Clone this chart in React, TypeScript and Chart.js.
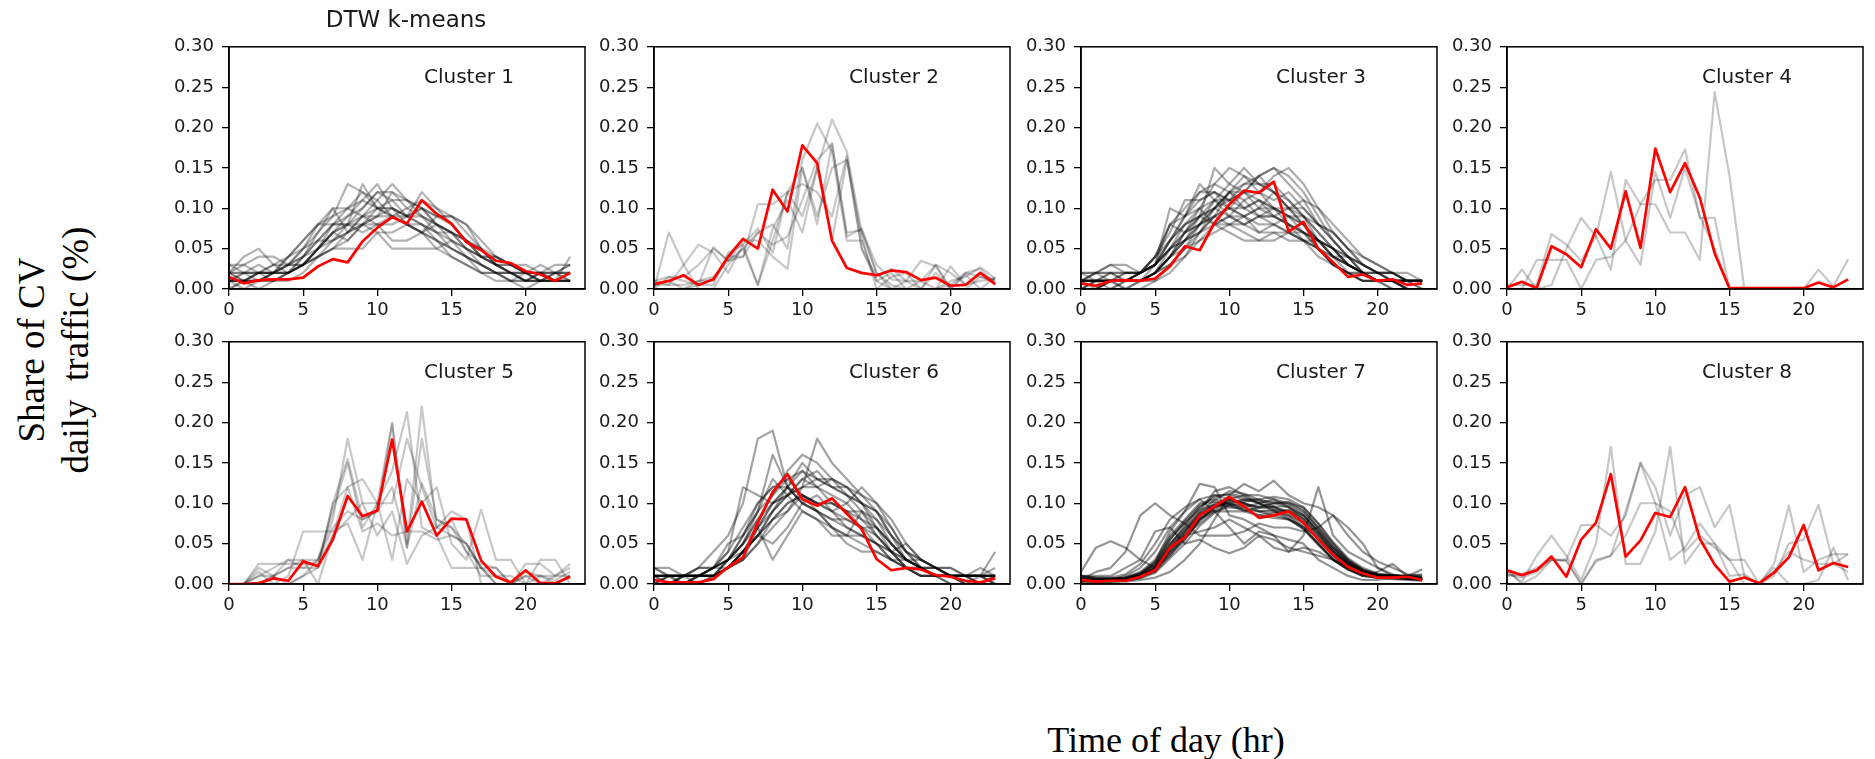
import React, { useEffect, useRef } from 'react';
import { Chart, registerables } from 'chart.js';

Chart.register(...registerables);

// ---------- data ----------
const HOURS = [0, 1, 2, 3, 4, 5, 6, 7, 8, 9, 10, 11, 12, 13, 14, 15, 16, 17, 18, 19, 20, 21, 22, 23];
const X_TICKS = [0, 5, 10, 15, 20];
const Y_TICKS = [0, 0.05, 0.1, 0.15, 0.2, 0.25, 0.3];
const CLUSTER_LABELS = ['Cluster 1', 'Cluster 2', 'Cluster 3', 'Cluster 4', 'Cluster 5', 'Cluster 6', 'Cluster 7', 'Cluster 8'];
const FIGURE_TITLE = 'DTW k-means';
const Y_TITLE_LINE1 = 'Share of CV';
const Y_TITLE_LINE2 = 'daily  traffic (%)';
const X_TITLE = 'Time of day (hr)';

// cluster centroids (red)
const c1Center = [0.015, 0.007, 0.011, 0.012, 0.012, 0.014, 0.028, 0.037, 0.033, 0.059, 0.076, 0.089, 0.081, 0.110, 0.093, 0.081, 0.058, 0.048, 0.035, 0.032, 0.022, 0.018, 0.010, 0.020];
const c2Center = [0.006, 0.010, 0.017, 0.005, 0.012, 0.040, 0.062, 0.050, 0.123, 0.096, 0.178, 0.156, 0.060, 0.026, 0.020, 0.017, 0.023, 0.021, 0.011, 0.014, 0.004, 0.005, 0.020, 0.006];
const c3Center = [0.007, 0.004, 0.010, 0.011, 0.010, 0.013, 0.028, 0.053, 0.048, 0.082, 0.105, 0.122, 0.119, 0.133, 0.071, 0.083, 0.050, 0.033, 0.015, 0.018, 0.010, 0.012, 0.005, 0.007];
const c4Center = [0.002, 0.009, 0.001, 0.053, 0.043, 0.027, 0.074, 0.050, 0.121, 0.051, 0.174, 0.120, 0.156, 0.113, 0.044, 0.001, 0.001, 0.001, 0.001, 0.001, 0.001, 0.008, 0.002, 0.012];
const c5Center = [0.000, 0.000, 0.001, 0.007, 0.004, 0.028, 0.022, 0.055, 0.109, 0.084, 0.091, 0.179, 0.065, 0.102, 0.060, 0.081, 0.080, 0.029, 0.009, 0.002, 0.017, 0.001, 0.001, 0.009];
const c6Center = [0.005, 0.002, 0.002, 0.002, 0.006, 0.021, 0.033, 0.076, 0.114, 0.136, 0.105, 0.097, 0.106, 0.087, 0.068, 0.031, 0.017, 0.020, 0.018, 0.011, 0.009, 0.004, 0.002, 0.007];
const c7Center = [0.005, 0.003, 0.004, 0.004, 0.009, 0.017, 0.045, 0.058, 0.085, 0.096, 0.108, 0.096, 0.082, 0.085, 0.090, 0.076, 0.055, 0.036, 0.021, 0.013, 0.008, 0.008, 0.009, 0.005];
const c8Center = [0.017, 0.011, 0.017, 0.034, 0.009, 0.055, 0.076, 0.136, 0.034, 0.054, 0.088, 0.083, 0.120, 0.056, 0.024, 0.003, 0.008, 0.001, 0.014, 0.033, 0.073, 0.017, 0.026, 0.021];

// member profiles (grey)
const c1Members = [
  [0.02, 0.04, 0.05, 0.03, 0.02, 0.03, 0.05, 0.07, 0.08, 0.10, 0.12, 0.11, 0.09, 0.08, 0.07, 0.06, 0.05, 0.03, 0.02, 0.02, 0.01, 0.02, 0.01, 0.01],
  [0.01, 0.01, 0.02, 0.03, 0.04, 0.06, 0.08, 0.09, 0.13, 0.12, 0.10, 0.09, 0.09, 0.08, 0.06, 0.05, 0.04, 0.03, 0.02, 0.02, 0.02, 0.01, 0.01, 0.02],
  [0.00, 0.01, 0.01, 0.02, 0.02, 0.04, 0.06, 0.08, 0.09, 0.11, 0.13, 0.10, 0.09, 0.10, 0.08, 0.07, 0.05, 0.04, 0.03, 0.02, 0.01, 0.01, 0.01, 0.01],
  [0.02, 0.02, 0.03, 0.02, 0.03, 0.05, 0.07, 0.10, 0.07, 0.08, 0.09, 0.12, 0.10, 0.09, 0.07, 0.05, 0.04, 0.02, 0.02, 0.01, 0.01, 0.02, 0.01, 0.01],
  [0.01, 0.02, 0.01, 0.02, 0.02, 0.03, 0.05, 0.06, 0.08, 0.09, 0.09, 0.10, 0.09, 0.12, 0.10, 0.08, 0.06, 0.05, 0.03, 0.02, 0.02, 0.02, 0.01, 0.02],
  [0.03, 0.03, 0.04, 0.04, 0.03, 0.05, 0.08, 0.08, 0.08, 0.07, 0.08, 0.09, 0.08, 0.08, 0.07, 0.07, 0.06, 0.04, 0.04, 0.03, 0.03, 0.02, 0.02, 0.01],
  [0.01, 0.00, 0.01, 0.01, 0.02, 0.03, 0.04, 0.06, 0.07, 0.09, 0.10, 0.11, 0.11, 0.10, 0.09, 0.09, 0.07, 0.05, 0.03, 0.02, 0.01, 0.01, 0.02, 0.03],
  [0.02, 0.01, 0.02, 0.02, 0.03, 0.04, 0.05, 0.07, 0.08, 0.08, 0.07, 0.07, 0.08, 0.07, 0.08, 0.07, 0.06, 0.04, 0.04, 0.03, 0.02, 0.02, 0.03, 0.03],
  [0.01, 0.02, 0.02, 0.01, 0.02, 0.04, 0.07, 0.09, 0.10, 0.12, 0.11, 0.09, 0.08, 0.07, 0.06, 0.04, 0.03, 0.02, 0.02, 0.01, 0.01, 0.01, 0.01, 0.01],
  [0.01, 0.01, 0.01, 0.02, 0.03, 0.03, 0.05, 0.07, 0.09, 0.10, 0.12, 0.12, 0.11, 0.10, 0.08, 0.06, 0.04, 0.03, 0.02, 0.02, 0.01, 0.02, 0.02, 0.02],
  [0.02, 0.02, 0.02, 0.03, 0.03, 0.04, 0.06, 0.06, 0.07, 0.09, 0.11, 0.13, 0.11, 0.09, 0.08, 0.07, 0.05, 0.04, 0.03, 0.02, 0.02, 0.01, 0.02, 0.02],
  [0.00, 0.01, 0.02, 0.02, 0.02, 0.03, 0.04, 0.05, 0.07, 0.08, 0.09, 0.09, 0.10, 0.11, 0.10, 0.09, 0.08, 0.06, 0.04, 0.03, 0.02, 0.02, 0.01, 0.02],
  [0.01, 0.01, 0.00, 0.01, 0.02, 0.03, 0.05, 0.08, 0.10, 0.09, 0.08, 0.06, 0.06, 0.07, 0.09, 0.08, 0.06, 0.05, 0.03, 0.02, 0.01, 0.01, 0.01, 0.04],
  [0.02, 0.03, 0.02, 0.02, 0.04, 0.05, 0.06, 0.08, 0.08, 0.13, 0.10, 0.10, 0.08, 0.07, 0.06, 0.05, 0.04, 0.03, 0.02, 0.01, 0.02, 0.01, 0.01, 0.01],
  [0.01, 0.01, 0.01, 0.01, 0.01, 0.02, 0.04, 0.05, 0.06, 0.08, 0.08, 0.08, 0.09, 0.10, 0.09, 0.09, 0.08, 0.05, 0.04, 0.03, 0.02, 0.03, 0.02, 0.01],
  [0.03, 0.02, 0.02, 0.02, 0.02, 0.03, 0.04, 0.05, 0.05, 0.05, 0.07, 0.05, 0.05, 0.05, 0.05, 0.06, 0.05, 0.04, 0.03, 0.03, 0.02, 0.02, 0.02, 0.02],
  [0.01, 0.01, 0.01, 0.02, 0.04, 0.06, 0.08, 0.10, 0.10, 0.11, 0.10, 0.09, 0.08, 0.07, 0.05, 0.04, 0.03, 0.02, 0.01, 0.01, 0.00, 0.01, 0.01, 0.01],
  [0.02, 0.01, 0.02, 0.02, 0.03, 0.03, 0.05, 0.07, 0.06, 0.08, 0.10, 0.10, 0.09, 0.09, 0.08, 0.07, 0.06, 0.04, 0.03, 0.03, 0.02, 0.01, 0.02, 0.03],
];

const c2Members = [
  [0.00, 0.07, 0.03, 0.00, 0.00, 0.03, 0.05, 0.07, 0.08, 0.05, 0.16, 0.205, 0.17, 0.06, 0.06, 0.01, 0.00, 0.00, 0.01, 0.03, 0.02, 0.005, 0.02, 0.01],
  [0.01, 0.015, 0.015, 0.03, 0.05, 0.035, 0.04, 0.105, 0.105, 0.12, 0.09, 0.15, 0.21, 0.17, 0.07, 0.02, 0.005, 0.00, 0.00, 0.00, 0.028, 0.005, 0.01, 0.012],
  [0.005, 0.005, 0.03, 0.055, 0.045, 0.02, 0.055, 0.075, 0.045, 0.12, 0.15, 0.08, 0.18, 0.07, 0.073, 0.03, 0.012, 0.01, 0.035, 0.028, 0.00, 0.02, 0.025, 0.005],
  [0.00, 0.00, 0.00, 0.005, 0.052, 0.035, 0.06, 0.06, 0.04, 0.025, 0.15, 0.09, 0.15, 0.16, 0.05, 0.015, 0.025, 0.01, 0.00, 0.00, 0.01, 0.015, 0.027, 0.013],
  [0.005, 0.01, 0.00, 0.01, 0.015, 0.035, 0.05, 0.005, 0.075, 0.11, 0.07, 0.15, 0.06, 0.16, 0.065, 0.00, 0.015, 0.02, 0.00, 0.03, 0.00, 0.018, 0.00, 0.015],
  [0.00, 0.015, 0.01, 0.005, 0.005, 0.045, 0.055, 0.005, 0.06, 0.12, 0.13, 0.12, 0.09, 0.165, 0.05, 0.01, 0.02, 0.00, 0.00, 0.02, 0.00, 0.00, 0.015, 0.012],
  [0.01, 0.005, 0.005, 0.01, 0.01, 0.04, 0.04, 0.07, 0.055, 0.065, 0.11, 0.16, 0.18, 0.065, 0.075, 0.02, 0.00, 0.01, 0.01, 0.00, 0.005, 0.02, 0.015, 0.008],
];

const c3Members = [
  [0.01, 0.01, 0.02, 0.02, 0.02, 0.04, 0.08, 0.10, 0.12, 0.13, 0.12, 0.12, 0.11, 0.10, 0.09, 0.07, 0.05, 0.03, 0.02, 0.01, 0.01, 0.01, 0.00, 0.00],
  [0.00, 0.00, 0.01, 0.01, 0.01, 0.02, 0.05, 0.07, 0.09, 0.11, 0.13, 0.15, 0.13, 0.12, 0.10, 0.08, 0.06, 0.04, 0.02, 0.01, 0.01, 0.00, 0.00, 0.00],
  [0.01, 0.01, 0.01, 0.01, 0.02, 0.03, 0.06, 0.09, 0.13, 0.11, 0.10, 0.09, 0.10, 0.12, 0.11, 0.09, 0.06, 0.04, 0.03, 0.02, 0.01, 0.01, 0.01, 0.01],
  [0.02, 0.02, 0.03, 0.03, 0.02, 0.03, 0.10, 0.09, 0.10, 0.08, 0.08, 0.09, 0.07, 0.08, 0.09, 0.08, 0.06, 0.05, 0.03, 0.02, 0.02, 0.02, 0.01, 0.01],
  [0.00, 0.00, 0.00, 0.00, 0.01, 0.02, 0.03, 0.05, 0.08, 0.10, 0.12, 0.13, 0.14, 0.15, 0.13, 0.11, 0.08, 0.06, 0.04, 0.02, 0.01, 0.01, 0.01, 0.00],
  [0.01, 0.01, 0.01, 0.01, 0.01, 0.02, 0.04, 0.07, 0.10, 0.13, 0.15, 0.14, 0.12, 0.10, 0.08, 0.06, 0.05, 0.03, 0.02, 0.01, 0.01, 0.01, 0.01, 0.01],
  [0.00, 0.01, 0.00, 0.01, 0.01, 0.03, 0.05, 0.06, 0.08, 0.09, 0.10, 0.10, 0.11, 0.10, 0.10, 0.10, 0.08, 0.07, 0.05, 0.03, 0.02, 0.01, 0.01, 0.01],
  [0.01, 0.02, 0.01, 0.02, 0.02, 0.04, 0.07, 0.11, 0.11, 0.12, 0.10, 0.09, 0.08, 0.08, 0.07, 0.06, 0.05, 0.04, 0.03, 0.02, 0.02, 0.01, 0.01, 0.01],
  [0.00, 0.00, 0.01, 0.01, 0.01, 0.01, 0.03, 0.04, 0.06, 0.08, 0.09, 0.11, 0.12, 0.14, 0.15, 0.13, 0.10, 0.07, 0.05, 0.03, 0.02, 0.01, 0.00, 0.00],
  [0.01, 0.01, 0.01, 0.02, 0.02, 0.03, 0.06, 0.08, 0.09, 0.10, 0.09, 0.08, 0.07, 0.07, 0.07, 0.06, 0.06, 0.05, 0.04, 0.03, 0.02, 0.02, 0.01, 0.01],
  [0.02, 0.01, 0.01, 0.01, 0.01, 0.02, 0.04, 0.07, 0.08, 0.11, 0.11, 0.13, 0.13, 0.12, 0.10, 0.09, 0.07, 0.05, 0.03, 0.02, 0.02, 0.01, 0.01, 0.01],
  [0.01, 0.00, 0.01, 0.00, 0.01, 0.02, 0.04, 0.05, 0.06, 0.07, 0.08, 0.07, 0.06, 0.07, 0.06, 0.06, 0.05, 0.04, 0.04, 0.03, 0.02, 0.02, 0.01, 0.01],
  [0.01, 0.01, 0.01, 0.01, 0.02, 0.04, 0.06, 0.09, 0.12, 0.12, 0.11, 0.12, 0.10, 0.09, 0.08, 0.07, 0.05, 0.03, 0.02, 0.02, 0.01, 0.01, 0.00, 0.00],
  [0.00, 0.01, 0.01, 0.00, 0.00, 0.01, 0.02, 0.04, 0.07, 0.10, 0.12, 0.14, 0.13, 0.13, 0.11, 0.09, 0.07, 0.05, 0.03, 0.02, 0.01, 0.01, 0.01, 0.01],
  [0.01, 0.02, 0.03, 0.02, 0.02, 0.03, 0.05, 0.06, 0.07, 0.09, 0.12, 0.11, 0.09, 0.09, 0.08, 0.07, 0.06, 0.05, 0.04, 0.03, 0.02, 0.02, 0.02, 0.01],
  [0.00, 0.00, 0.01, 0.01, 0.02, 0.03, 0.08, 0.07, 0.09, 0.10, 0.12, 0.10, 0.11, 0.09, 0.08, 0.07, 0.06, 0.04, 0.03, 0.02, 0.01, 0.01, 0.00, 0.00],
  [0.01, 0.01, 0.01, 0.01, 0.01, 0.02, 0.03, 0.05, 0.07, 0.09, 0.10, 0.12, 0.12, 0.11, 0.12, 0.10, 0.08, 0.06, 0.04, 0.02, 0.01, 0.01, 0.01, 0.01],
  [0.02, 0.02, 0.02, 0.01, 0.02, 0.03, 0.05, 0.08, 0.10, 0.11, 0.09, 0.08, 0.09, 0.10, 0.09, 0.08, 0.06, 0.04, 0.03, 0.02, 0.01, 0.01, 0.01, 0.01],
  [0.00, 0.01, 0.01, 0.01, 0.01, 0.02, 0.04, 0.06, 0.09, 0.15, 0.13, 0.12, 0.14, 0.12, 0.10, 0.08, 0.05, 0.03, 0.02, 0.01, 0.01, 0.00, 0.00, 0.00],
  [0.01, 0.01, 0.01, 0.01, 0.01, 0.02, 0.04, 0.06, 0.07, 0.08, 0.09, 0.09, 0.10, 0.10, 0.09, 0.09, 0.08, 0.07, 0.05, 0.04, 0.03, 0.02, 0.01, 0.01],
  [0.01, 0.02, 0.02, 0.01, 0.02, 0.03, 0.06, 0.08, 0.09, 0.08, 0.07, 0.06, 0.06, 0.06, 0.07, 0.07, 0.06, 0.05, 0.03, 0.02, 0.01, 0.01, 0.01, 0.01],
  [0.00, 0.00, 0.00, 0.01, 0.01, 0.02, 0.04, 0.06, 0.08, 0.10, 0.11, 0.12, 0.14, 0.15, 0.14, 0.12, 0.09, 0.06, 0.04, 0.02, 0.01, 0.01, 0.00, 0.00],
  [0.01, 0.01, 0.02, 0.02, 0.02, 0.04, 0.08, 0.09, 0.11, 0.12, 0.11, 0.10, 0.09, 0.08, 0.07, 0.06, 0.04, 0.03, 0.02, 0.02, 0.01, 0.01, 0.01, 0.00],
  [0.01, 0.01, 0.01, 0.01, 0.02, 0.03, 0.05, 0.07, 0.08, 0.09, 0.08, 0.08, 0.09, 0.09, 0.10, 0.11, 0.10, 0.08, 0.06, 0.04, 0.03, 0.02, 0.01, 0.01],
];

const c4Members = [
  [0.000, 0.024, 0.000, 0.005, 0.050, 0.088, 0.065, 0.024, 0.135, 0.105, 0.105, 0.070, 0.070, 0.036, 0.244, 0.140, 0, 0, 0, 0, 0, 0, 0, 0],
  [0.000, 0.000, 0.036, 0.036, 0.036, 0.000, 0.036, 0.040, 0.060, 0.105, 0.135, 0.135, 0.173, 0.088, 0.088, 0.000, 0, 0, 0, 0, 0, 0.024, 0.003, 0.037],
  [0.005, 0.005, 0.005, 0.068, 0.055, 0.035, 0.065, 0.145, 0.060, 0.030, 0.145, 0.088, 0.150, 0.090, 0.050, 0.000, 0, 0, 0, 0, 0, 0, 0, 0],
];

const c5Members = [
  [0, 0, 0.01, 0.02, 0.03, 0.03, 0.03, 0.08, 0.18, 0.10, 0.10, 0.20, 0.05, 0.22, 0.07, 0.06, 0.05, 0.02, 0.01, 0.01, 0.00, 0.01, 0.00, 0.01],
  [0, 0, 0, 0.01, 0.03, 0.02, 0.02, 0.10, 0.155, 0.08, 0.09, 0.12, 0.045, 0.18, 0.08, 0.07, 0.05, 0.02, 0.02, 0.0, 0.01, 0.0, 0.0, 0.01],
  [0, 0, 0.025, 0.025, 0.025, 0.025, 0.025, 0.06, 0.12, 0.13, 0.10, 0.14, 0.213, 0.07, 0.06, 0.02, 0.02, 0.02, 0.0, 0.0, 0.025, 0.025, 0.01, 0.025],
  [0, 0, 0.01, 0.01, 0.0, 0.01, 0.03, 0.09, 0.15, 0.07, 0.10, 0.10, 0.18, 0.12, 0.07, 0.09, 0.08, 0.0, 0.0, 0.0, 0.0, 0.0, 0.0, 0.01],
  [0, 0, 0.015, 0.0, 0.01, 0.065, 0.065, 0.065, 0.075, 0.03, 0.10, 0.03, 0.13, 0.10, 0.12, 0.05, 0.03, 0.092, 0.03, 0.03, 0.0, 0.03, 0.03, 0.0],
  [0, 0, 0.0, 0.0, 0.0, 0.01, 0.02, 0.10, 0.12, 0.065, 0.075, 0.06, 0.065, 0.065, 0.055, 0.06, 0.05, 0.02, 0.0, 0.0, 0.01, 0.01, 0.01, 0.02],
  [0, 0, 0, 0.01, 0.02, 0.03, 0.0, 0.06, 0.08, 0.10, 0.06, 0.09, 0.025, 0.06, 0.07, 0.08, 0.04, 0.01, 0.01, 0.0, 0.0, 0.0, 0.01, 0.01],
  [0, 0, 0.02, 0.01, 0.02, 0.02, 0.03, 0.07, 0.09, 0.08, 0.09, 0.198, 0.045, 0.125, 0.08, 0.07, 0.04, 0.025, 0.02, 0.0, 0.015, 0.01, 0.005, 0.015],
];

const c6Members = [
  [0.01, 0.01, 0.00, 0.01, 0.01, 0.03, 0.05, 0.08, 0.10, 0.11, 0.13, 0.12, 0.11, 0.10, 0.08, 0.06, 0.04, 0.02, 0.02, 0.01, 0.01, 0.01, 0.00, 0.01],
  [0.02, 0.01, 0.01, 0.01, 0.02, 0.04, 0.12, 0.11, 0.10, 0.12, 0.14, 0.12, 0.10, 0.09, 0.07, 0.05, 0.03, 0.02, 0.01, 0.01, 0.00, 0.00, 0.00, 0.00],
  [0.00, 0.00, 0.01, 0.02, 0.04, 0.06, 0.10, 0.18, 0.19, 0.12, 0.11, 0.10, 0.09, 0.08, 0.07, 0.06, 0.04, 0.02, 0.01, 0.01, 0.01, 0.01, 0.01, 0.01],
  [0.01, 0.01, 0.01, 0.01, 0.01, 0.02, 0.04, 0.07, 0.10, 0.11, 0.12, 0.18, 0.15, 0.13, 0.11, 0.09, 0.06, 0.03, 0.02, 0.01, 0.01, 0.00, 0.01, 0.01],
  [0.00, 0.00, 0.00, 0.00, 0.01, 0.02, 0.04, 0.06, 0.09, 0.12, 0.15, 0.13, 0.12, 0.12, 0.10, 0.08, 0.05, 0.03, 0.02, 0.01, 0.01, 0.01, 0.01, 0.00],
  [0.01, 0.00, 0.01, 0.00, 0.01, 0.02, 0.03, 0.05, 0.08, 0.10, 0.11, 0.10, 0.09, 0.10, 0.12, 0.10, 0.07, 0.04, 0.02, 0.01, 0.01, 0.00, 0.00, 0.00],
  [0.01, 0.01, 0.01, 0.01, 0.02, 0.03, 0.05, 0.09, 0.16, 0.12, 0.10, 0.09, 0.08, 0.07, 0.06, 0.05, 0.04, 0.03, 0.02, 0.02, 0.01, 0.01, 0.01, 0.01],
  [0.00, 0.01, 0.01, 0.01, 0.01, 0.02, 0.04, 0.06, 0.05, 0.07, 0.10, 0.09, 0.07, 0.06, 0.06, 0.05, 0.04, 0.03, 0.02, 0.02, 0.01, 0.01, 0.01, 0.04],
  [0.01, 0.01, 0.01, 0.02, 0.02, 0.03, 0.06, 0.09, 0.11, 0.13, 0.14, 0.13, 0.12, 0.11, 0.09, 0.07, 0.04, 0.02, 0.01, 0.01, 0.00, 0.00, 0.00, 0.00],
  [0.00, 0.00, 0.00, 0.01, 0.01, 0.02, 0.03, 0.05, 0.07, 0.09, 0.12, 0.12, 0.13, 0.11, 0.10, 0.09, 0.07, 0.04, 0.03, 0.02, 0.01, 0.01, 0.01, 0.01],
  [0.02, 0.01, 0.01, 0.01, 0.02, 0.04, 0.07, 0.10, 0.12, 0.12, 0.10, 0.11, 0.09, 0.07, 0.06, 0.05, 0.03, 0.02, 0.01, 0.01, 0.01, 0.01, 0.00, 0.01],
  [0.01, 0.00, 0.00, 0.01, 0.01, 0.02, 0.04, 0.07, 0.03, 0.06, 0.09, 0.08, 0.07, 0.06, 0.09, 0.06, 0.04, 0.05, 0.03, 0.02, 0.01, 0.01, 0.01, 0.01],
  [0.00, 0.01, 0.01, 0.01, 0.01, 0.03, 0.05, 0.08, 0.11, 0.14, 0.16, 0.15, 0.13, 0.12, 0.10, 0.07, 0.05, 0.03, 0.02, 0.01, 0.01, 0.01, 0.01, 0.00],
  [0.01, 0.01, 0.01, 0.01, 0.02, 0.02, 0.04, 0.06, 0.08, 0.10, 0.11, 0.10, 0.10, 0.09, 0.09, 0.08, 0.06, 0.04, 0.03, 0.02, 0.02, 0.01, 0.01, 0.01],
  [0.00, 0.00, 0.01, 0.01, 0.02, 0.05, 0.06, 0.09, 0.13, 0.11, 0.09, 0.08, 0.06, 0.06, 0.05, 0.04, 0.03, 0.02, 0.02, 0.01, 0.01, 0.00, 0.00, 0.01],
  [0.01, 0.01, 0.00, 0.01, 0.01, 0.02, 0.04, 0.06, 0.09, 0.11, 0.13, 0.14, 0.12, 0.11, 0.10, 0.09, 0.06, 0.04, 0.02, 0.02, 0.01, 0.01, 0.01, 0.02],
  [0.00, 0.01, 0.01, 0.01, 0.01, 0.02, 0.03, 0.07, 0.10, 0.12, 0.10, 0.09, 0.08, 0.08, 0.07, 0.07, 0.05, 0.03, 0.02, 0.01, 0.01, 0.01, 0.01, 0.00],
  [0.01, 0.01, 0.01, 0.01, 0.02, 0.03, 0.05, 0.07, 0.09, 0.11, 0.12, 0.13, 0.13, 0.12, 0.11, 0.10, 0.08, 0.05, 0.03, 0.02, 0.01, 0.01, 0.00, 0.00],
  [0.02, 0.02, 0.01, 0.02, 0.02, 0.03, 0.04, 0.06, 0.08, 0.09, 0.11, 0.09, 0.07, 0.05, 0.04, 0.04, 0.03, 0.03, 0.03, 0.02, 0.02, 0.01, 0.02, 0.01],
  [0.00, 0.00, 0.01, 0.01, 0.01, 0.03, 0.06, 0.10, 0.12, 0.13, 0.11, 0.10, 0.10, 0.09, 0.08, 0.07, 0.05, 0.03, 0.02, 0.01, 0.01, 0.01, 0.01, 0.01],
];

const c7Members = [
  [0.005, 0.004, 0.005, 0.006, 0.010, 0.020, 0.045, 0.065, 0.085, 0.100, 0.105, 0.100, 0.095, 0.095, 0.090, 0.080, 0.060, 0.040, 0.025, 0.015, 0.010, 0.010, 0.008, 0.005],
  [0.008, 0.006, 0.004, 0.005, 0.012, 0.025, 0.055, 0.075, 0.095, 0.110, 0.110, 0.105, 0.100, 0.095, 0.085, 0.070, 0.050, 0.032, 0.020, 0.012, 0.008, 0.007, 0.006, 0.005],
  [0.004, 0.003, 0.003, 0.004, 0.008, 0.015, 0.035, 0.055, 0.080, 0.095, 0.100, 0.105, 0.105, 0.100, 0.095, 0.085, 0.065, 0.045, 0.028, 0.016, 0.010, 0.009, 0.008, 0.006],
  [0.006, 0.005, 0.006, 0.008, 0.015, 0.030, 0.060, 0.080, 0.100, 0.105, 0.100, 0.095, 0.090, 0.090, 0.085, 0.075, 0.055, 0.035, 0.020, 0.012, 0.008, 0.008, 0.007, 0.004],
  [0.003, 0.003, 0.004, 0.005, 0.008, 0.018, 0.040, 0.060, 0.075, 0.090, 0.095, 0.095, 0.100, 0.105, 0.100, 0.090, 0.070, 0.050, 0.030, 0.018, 0.012, 0.010, 0.008, 0.005],
  [0.010, 0.008, 0.007, 0.008, 0.012, 0.022, 0.050, 0.070, 0.090, 0.115, 0.120, 0.110, 0.100, 0.090, 0.080, 0.070, 0.050, 0.030, 0.018, 0.010, 0.008, 0.008, 0.007, 0.006],
  [0.005, 0.005, 0.005, 0.005, 0.010, 0.020, 0.045, 0.060, 0.080, 0.090, 0.090, 0.090, 0.095, 0.100, 0.100, 0.095, 0.075, 0.050, 0.030, 0.018, 0.012, 0.010, 0.010, 0.008],
  [0.004, 0.004, 0.005, 0.006, 0.012, 0.028, 0.065, 0.090, 0.105, 0.110, 0.105, 0.100, 0.090, 0.085, 0.080, 0.068, 0.050, 0.030, 0.018, 0.010, 0.008, 0.006, 0.005, 0.004],
  [0.006, 0.004, 0.004, 0.005, 0.010, 0.016, 0.038, 0.055, 0.078, 0.095, 0.105, 0.110, 0.110, 0.105, 0.095, 0.080, 0.060, 0.040, 0.024, 0.015, 0.010, 0.010, 0.009, 0.006],
  [0.008, 0.006, 0.006, 0.007, 0.013, 0.025, 0.050, 0.068, 0.088, 0.098, 0.100, 0.092, 0.085, 0.088, 0.092, 0.085, 0.065, 0.042, 0.026, 0.016, 0.011, 0.010, 0.009, 0.007],
  [0.005, 0.004, 0.004, 0.005, 0.009, 0.020, 0.048, 0.072, 0.095, 0.108, 0.112, 0.108, 0.100, 0.092, 0.082, 0.068, 0.048, 0.030, 0.018, 0.011, 0.008, 0.007, 0.006, 0.005],
  [0.004, 0.003, 0.003, 0.004, 0.007, 0.014, 0.032, 0.050, 0.072, 0.088, 0.098, 0.102, 0.105, 0.108, 0.105, 0.095, 0.075, 0.052, 0.032, 0.020, 0.013, 0.011, 0.009, 0.006],
  [0.007, 0.006, 0.006, 0.007, 0.012, 0.024, 0.055, 0.078, 0.098, 0.102, 0.098, 0.090, 0.085, 0.082, 0.080, 0.072, 0.056, 0.038, 0.024, 0.015, 0.011, 0.010, 0.009, 0.008],
  [0.005, 0.005, 0.005, 0.006, 0.011, 0.021, 0.046, 0.066, 0.086, 0.096, 0.103, 0.100, 0.094, 0.096, 0.096, 0.085, 0.064, 0.043, 0.026, 0.016, 0.010, 0.009, 0.008, 0.006],
  [0.006, 0.005, 0.005, 0.006, 0.010, 0.018, 0.042, 0.062, 0.082, 0.092, 0.098, 0.098, 0.096, 0.100, 0.102, 0.092, 0.070, 0.046, 0.028, 0.017, 0.011, 0.010, 0.009, 0.007],
  [0.004, 0.004, 0.004, 0.005, 0.009, 0.019, 0.044, 0.064, 0.088, 0.104, 0.115, 0.112, 0.104, 0.096, 0.088, 0.076, 0.056, 0.036, 0.022, 0.013, 0.009, 0.008, 0.007, 0.005],
  [0.009, 0.007, 0.007, 0.008, 0.014, 0.027, 0.058, 0.076, 0.092, 0.098, 0.096, 0.092, 0.090, 0.092, 0.090, 0.082, 0.062, 0.040, 0.025, 0.016, 0.011, 0.011, 0.010, 0.008],
  [0.005, 0.004, 0.004, 0.005, 0.009, 0.017, 0.040, 0.058, 0.080, 0.094, 0.102, 0.104, 0.102, 0.102, 0.098, 0.088, 0.068, 0.046, 0.028, 0.017, 0.011, 0.009, 0.008, 0.006],
  [0.015, 0.045, 0.053, 0.045, 0.030, 0.020, 0.035, 0.060, 0.065, 0.070, 0.080, 0.070, 0.060, 0.055, 0.045, 0.040, 0.035, 0.030, 0.020, 0.015, 0.010, 0.010, 0.010, 0.010],
  [0.005, 0.015, 0.020, 0.040, 0.085, 0.100, 0.085, 0.075, 0.060, 0.060, 0.060, 0.065, 0.075, 0.070, 0.070, 0.065, 0.070, 0.085, 0.070, 0.050, 0.020, 0.010, 0.010, 0.005],
  [0.010, 0.010, 0.010, 0.020, 0.030, 0.065, 0.070, 0.050, 0.055, 0.045, 0.038, 0.045, 0.060, 0.045, 0.040, 0.045, 0.040, 0.030, 0.020, 0.010, 0.015, 0.025, 0.010, 0.018],
  [0.005, 0.005, 0.005, 0.010, 0.020, 0.040, 0.070, 0.090, 0.124, 0.120, 0.085, 0.080, 0.070, 0.060, 0.040, 0.060, 0.120, 0.060, 0.040, 0.030, 0.020, 0.012, 0.008, 0.005],
  [0.002, 0.002, 0.003, 0.003, 0.005, 0.008, 0.015, 0.030, 0.050, 0.080, 0.110, 0.124, 0.115, 0.128, 0.110, 0.100, 0.095, 0.085, 0.060, 0.040, 0.028, 0.020, 0.012, 0.010],
  [0.010, 0.008, 0.008, 0.012, 0.025, 0.050, 0.080, 0.095, 0.105, 0.090, 0.070, 0.050, 0.065, 0.060, 0.055, 0.050, 0.030, 0.020, 0.010, 0.005, 0.005, 0.008, 0.010, 0.012],
];

const c8Members = [
  [0.015, 0.003, 0.035, 0.060, 0.035, 0.005, 0.050, 0.170, 0.025, 0.025, 0.065, 0.170, 0.025, 0.050, 0.050, 0.030, 0.030, 0.000, 0.020, 0.000, 0.000, 0.005, 0.045, 0.005],
  [0.012, 0.008, 0.015, 0.030, 0.030, 0.000, 0.030, 0.035, 0.090, 0.150, 0.120, 0.060, 0.110, 0.120, 0.070, 0.098, 0.010, 0.000, 0.025, 0.097, 0.015, 0.030, 0.037, 0.037],
  [0.010, 0.012, 0.020, 0.030, 0.030, 0.073, 0.073, 0.060, 0.085, 0.150, 0.100, 0.030, 0.045, 0.075, 0.050, 0.010, 0.012, 0.000, 0.010, 0.050, 0.055, 0.098, 0.025, 0.037],
  [0.018, 0.000, 0.010, 0.030, 0.028, 0.000, 0.028, 0.035, 0.060, 0.100, 0.100, 0.090, 0.040, 0.060, 0.045, 0.030, 0.000, 0.000, 0.015, 0.040, 0.030, 0.025, 0.025, 0.015],
];

const CENTERS = [c1Center, c2Center, c3Center, c4Center, c5Center, c6Center, c7Center, c8Center];
const MEMBERS = [c1Members, c2Members, c3Members, c4Members, c5Members, c6Members, c7Members, c8Members];
const MEMBER_ALPHA = [0.3, 0.22, 0.33, 0.22, 0.22, 0.36, 0.42, 0.22];

// ---------- layout ----------
const PLOT_LEFTS = [229, 654, 1081, 1507];
const PLOT_TOPS = [42, 337];
const PLOT_W = 356;
const PLOT_H = 247;
const YW = 75;
const XH = 34;
const PT = 14;
const PR = 12;
const TICK_FONT = '"DejaVu Sans", sans-serif';

function Subplot({ index }: { index: number }) {
  const ref = useRef<HTMLCanvasElement | null>(null);
  const col = index % 4;
  const row = Math.floor(index / 4);
  const left = PLOT_LEFTS[col] - YW;
  const top = PLOT_TOPS[row] - PT;
  const W = YW + PLOT_W + PR;
  const H = PT + PLOT_H + XH;

  useEffect(() => {
    if (!ref.current) return;
    const label = CLUSTER_LABELS[index];
    const framePlugin = {
      id: 'frameAndLabel' + index,
      afterDatasetsDraw(chart: any) {
        const { ctx, chartArea } = chart;
        ctx.save();
        ctx.strokeStyle = '#000';
        ctx.lineWidth = 1.5;
        ctx.strokeRect(chartArea.left, chartArea.top, chartArea.right - chartArea.left, chartArea.bottom - chartArea.top);
        ctx.restore();
      },
      afterDraw(chart: any) {
        const { ctx, chartArea } = chart;
        ctx.save();
        ctx.fillStyle = '#1a1a1a';
        ctx.font = '20px ' + TICK_FONT;
        ctx.textAlign = 'left';
        ctx.textBaseline = 'alphabetic';
        ctx.fillText(label, chartArea.left + 195, chartArea.top + 36);
        ctx.restore();
      },
    };
    const toPts = (arr: number[]) => HOURS.map((h, i) => ({ x: h, y: arr[i] }));
    const alpha = MEMBER_ALPHA[index];
    const datasets: any[] = [
      {
        data: toPts(CENTERS[index]),
        borderColor: '#ff0000',
        borderWidth: 2.7,
        order: 0,
      },
      ...MEMBERS[index].map((m) => ({
        data: toPts(m),
        borderColor: `rgba(0,0,0,${alpha})`,
        borderWidth: 2.2,
        order: 1,
      })),
    ];
    const chart = new Chart(ref.current, {
      type: 'line',
      data: { datasets },
      options: {
        animation: false,
        responsive: false,
        events: [],
        elements: {
          point: { radius: 0 },
          line: { tension: 0, borderJoinStyle: 'round', borderCapStyle: 'butt', fill: false },
        },
        layout: { padding: { top: PT, right: PR, left: 0, bottom: 0 } },
        plugins: {
          legend: { display: false },
          tooltip: { enabled: false },
          title: { display: false },
        },
        scales: {
          x: {
            type: 'linear',
            min: 0,
            max: 24,
            afterBuildTicks: (axis: any) => {
              axis.ticks = X_TICKS.map((v) => ({ value: v }));
            },
            afterFit: (axis: any) => {
              axis.height = XH;
            },
            grid: { drawOnChartArea: false, drawTicks: true, tickLength: 7, color: '#000', lineWidth: 1.3 },
            border: { display: true, color: '#000', width: 1.5 },
            ticks: {
              padding: 4,
              color: '#1a1a1a',
              font: { size: 18, family: TICK_FONT },
              maxRotation: 0,
              autoSkip: false,
              callback: (v: any) => String(v),
            },
          },
          y: {
            type: 'linear',
            min: 0,
            max: 0.3,
            afterBuildTicks: (axis: any) => {
              axis.ticks = Y_TICKS.map((v) => ({ value: v }));
            },
            afterFit: (axis: any) => {
              axis.width = YW;
            },
            grid: { drawOnChartArea: false, drawTicks: true, tickLength: 7, color: '#000', lineWidth: 1.3 },
            border: { display: true, color: '#000', width: 1.5 },
            ticks: {
              padding: 8,
              color: '#1a1a1a',
              font: { size: 18, family: TICK_FONT },
              autoSkip: false,
              callback: (v: any) => Number(v).toFixed(2),
            },
          },
        },
      } as any,
      plugins: [framePlugin],
    });
    return () => chart.destroy();
  }, [index]);

  return (
    <canvas
      ref={ref}
      width={W}
      height={H}
      style={{ position: 'absolute', left, top, width: W, height: H }}
    />
  );
}

export default function App() {
  return (
    <div
      style={{
        position: 'absolute',
        left: 0,
        top: 0,
        width: 1875,
        height: 759,
        background: '#fff',
        overflow: 'hidden',
      }}
    >
      {CLUSTER_LABELS.map((_, i) => (
        <Subplot key={i} index={i} />
      ))}
      <div
        style={{
          position: 'absolute',
          left: 406,
          top: 4,
          transform: 'translateX(-50%)',
          font: '23px "DejaVu Sans", sans-serif',
          color: '#1a1a1a',
          whiteSpace: 'nowrap',
          lineHeight: '30px',
        }}
      >
        {FIGURE_TITLE}
      </div>
      <div
        style={{
          position: 'absolute',
          left: 53.5,
          top: 350,
          transform: 'translate(-50%, -50%) rotate(-90deg)',
          font: '37px "Liberation Serif", "Times New Roman", serif',
          lineHeight: '44px',
          color: '#000',
          whiteSpace: 'pre',
          textAlign: 'center',
        }}
      >
        {Y_TITLE_LINE1 + '\n' + Y_TITLE_LINE2}
      </div>
      <div
        style={{
          position: 'absolute',
          left: 1166,
          top: 722,
          transform: 'translateX(-50%)',
          font: '36px "Liberation Serif", "Times New Roman", serif',
          lineHeight: '36px',
          color: '#000',
          whiteSpace: 'nowrap',
        }}
      >
        {X_TITLE}
      </div>
    </div>
  );
}
